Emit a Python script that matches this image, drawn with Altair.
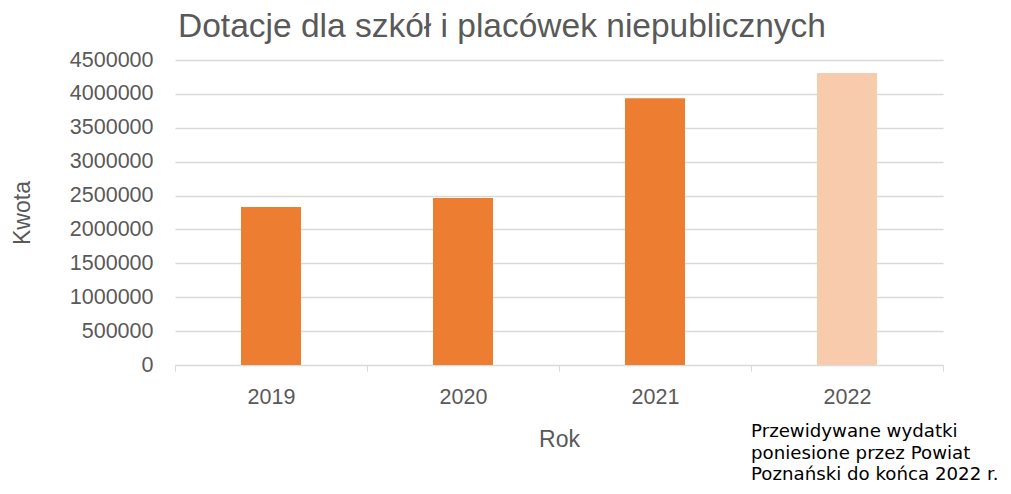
import altair as alt
import pandas as pd

years = ["2019", "2020", "2021", "2022"]
values = [2330000, 2465000, 3935000, 4310000]
colors = ["#ED7D31", "#ED7D31", "#ED7D31", "#F8CBAD"]
y_ticks = [0, 500000, 1000000, 1500000, 2000000, 2500000, 3000000, 3500000, 4000000, 4500000]
note_lines = ["Przewidywane wydatki", "poniesione przez Powiat", "Poznański do końca 2022 r."]

df = pd.DataFrame({"Rok": years, "Kwota": values, "color": colors})
note_df = pd.DataFrame({"Rok": ["2022"], "note": [note_lines]})

font = "Liberation Sans"
grey = "#595959"

x_enc = alt.X(
    "Rok:N",
    sort=years,
    scale=alt.Scale(paddingInner=0, paddingOuter=0),
    axis=alt.Axis(
        title="Rok", labelAngle=0, tickBand="extent", ticks=True, tickSize=6,
        tickColor="#D9D9D9", domainColor="#D9D9D9", labelFont=font, labelFontSize=21.5,
        labelColor=grey, labelPadding=15, titleFont=font, titleFontSize=23,
        titleColor=grey, titleFontWeight="normal", titlePadding=21, grid=False,
    ),
)

bars = alt.Chart(df).mark_bar(size=60).encode(
    x=x_enc,
    y=alt.Y(
        "Kwota:Q",
        scale=alt.Scale(domain=[0, 4500000], nice=False),
        axis=alt.Axis(
            values=y_ticks, format="d", title="Kwota", ticks=False, domain=False,
            gridColor="#D9D9D9", gridWidth=1.3, labelFont=font, labelFontSize=21.5,
            labelColor=grey, labelPadding=22, titleFont=font, titleFontSize=23,
            titleColor=grey, titleFontWeight="normal", titlePadding=35,
        ),
    ),
    color=alt.Color("color:N", scale=None),
)

note = alt.Chart(note_df).mark_text(
    align="left", baseline="alphabetic", font="DejaVu Sans", fontSize=18.2,
    lineHeight=21.5, color="#000000",
).encode(
    x=alt.X("Rok:N", sort=years, bandPosition=0),
    y=alt.value(377),
    text="note",
)

chart = alt.layer(bars, note).properties(
    width=768,
    height=305,
    title=alt.TitleParams(
        "Dotacje dla szkół i placówek niepublicznych", anchor="start", frame="group",
        dx=3, font=font, fontSize=33.5, fontWeight="normal", color=grey, offset=5,
    ),
    padding={"left": 167, "top": 52, "right": 60, "bottom": 121},
    autosize=alt.AutoSizeParams(type="none"),
).configure_view(stroke=None)

chart.save("out.html", embed_options={"renderer": "svg", "actions": False})
